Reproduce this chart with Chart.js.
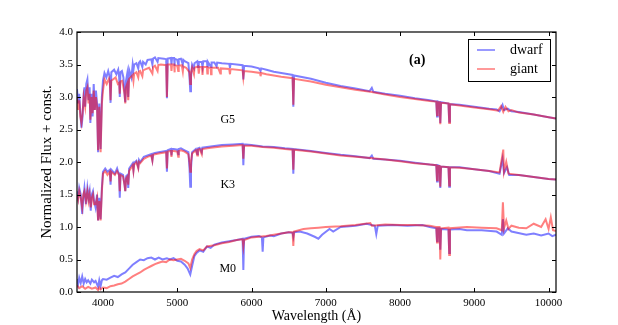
<!DOCTYPE html>
<html>
<head>
<meta charset="utf-8">
<script src="https://cdn.jsdelivr.net/npm/chart.js@4"></script>
<style>
  html, body { margin: 0; padding: 0; background: #fff; }
  #wrap { width: 618px; height: 325px; }
</style>
</head>
<body>
<div id="wrap"><canvas id="specChart" width="618" height="325"></canvas></div>
<script>
// spectra: [wavelength (A), normalized flux + const]
const g5Dwarf = [
  [3650,3.12],[3665,2.9],[3680,3.05],[3695,2.75],[3710,2.53],[3725,2.7],[3740,3.05],[3750,3.15],[3760,2.85],[3775,3.2],
  [3790,3.27],[3805,2.95],[3820,3.15],[3830,2.6],[3845,3.05],[3860,2.7],[3875,3.2],[3890,2.8],[3905,3.1],[3920,2.9],
  [3934,2.15],[3950,2.9],[3968,2.2],[3985,3.0],[4000,3.25],[4020,3.37],[4045,3.3],[4070,3.4],[4092,3.3],[4102,2.91],
  [4112,3.38],[4150,3.42],[4180,3.35],[4205,3.42],[4218,3.3],[4226,3.0],[4234,3.38],[4255,3.4],[4275,3.3],[4290,3.05],
  [4300,2.92],[4310,3.25],[4325,3.35],[4340,3.0],[4352,3.42],[4383,3.3],[4400,3.5],[4410,3.42],[4420,3.5],[4450,3.52],
  [4475,3.44],[4485,3.53],[4500,3.55],[4530,3.46],[4540,3.54],[4575,3.5],[4600,3.57],[4650,3.58],[4665,3.5],[4675,3.59],
  [4700,3.61],[4735,3.54],[4745,3.6],[4820,3.59],[4851,3.58],[4861,2.98],[4871,3.59],[4915,3.6],[4922,3.5],[4930,3.6],
  [4957,3.6],[4962,3.48],[4968,3.59],[5000,3.57],[5013,3.5],[5020,3.58],[5050,3.59],[5075,3.5],[5082,3.57],[5100,3.55],
  [5150,3.52],[5165,3.3],[5175,3.09],[5185,3.3],[5200,3.5],[5225,3.44],[5232,3.52],[5270,3.55],[5280,3.46],[5290,3.54],
  [5330,3.54],[5340,3.46],[5350,3.55],[5400,3.55],[5405,3.47],[5412,3.54],[5455,3.46],[5462,3.53],[5500,3.53],[5530,3.47],
  [5537,3.53],[5600,3.52],[5700,3.51],[5710,3.45],[5717,3.51],[5800,3.5],[5880,3.49],[5890,3.27],[5900,3.48],[6000,3.47],
  [6100,3.44],[6122,3.4],[6130,3.44],[6200,3.42],[6300,3.39],[6400,3.37],[6500,3.35],[6553,3.34],[6563,2.85],[6573,3.33],
  [6800,3.28],[7000,3.22],[7200,3.17],[7400,3.13],[7590,3.09],[7620,3.14],[7640,3.08],[7800,3.05],[8000,3.02],[8200,2.98],
  [8400,2.95],[8488,2.93],[8498,2.7],[8508,2.93],[8532,2.92],[8542,2.6],[8552,2.92],[8652,2.9],[8662,2.62],[8672,2.89],
  [8800,2.88],[9000,2.85],[9200,2.82],[9300,2.81],[9340,2.78],[9380,2.88],[9400,2.8],[9450,2.82],[9500,2.78],[9600,2.77],
  [9800,2.73],[10000,2.69],[10100,2.67]
];
const g5Giant = [
  [3650,3.0],[3665,2.8],[3680,2.95],[3695,2.7],[3710,2.6],[3725,2.75],[3740,3.0],[3760,2.85],[3775,3.1],[3790,3.15],
  [3805,2.9],[3820,3.05],[3830,2.65],[3845,3.0],[3860,2.75],[3875,3.1],[3890,2.8],[3905,3.0],[3920,2.85],[3934,2.18],
  [3950,2.85],[3968,2.15],[3985,2.9],[4000,3.1],[4020,3.27],[4050,3.2],[4080,3.28],[4092,3.22],[4102,2.95],[4112,3.25],
  [4170,3.3],[4200,3.2],[4218,3.22],[4226,3.05],[4234,3.24],[4260,3.25],[4290,3.05],[4300,2.9],[4310,3.15],[4325,3.2],
  [4340,2.95],[4352,3.28],[4400,3.34],[4410,3.25],[4420,3.36],[4450,3.38],[4475,3.3],[4485,3.39],[4500,3.4],[4530,3.32],
  [4540,3.41],[4560,3.42],[4620,3.45],[4665,3.36],[4675,3.46],[4700,3.48],[4735,3.4],[4745,3.49],[4780,3.5],[4851,3.49],
  [4861,3.0],[4871,3.5],[4915,3.5],[4922,3.4],[4930,3.5],[4957,3.5],[4962,3.38],[4968,3.49],[5000,3.48],[5013,3.4],
  [5020,3.48],[5060,3.49],[5075,3.39],[5082,3.47],[5120,3.45],[5165,3.38],[5175,3.2],[5185,3.38],[5200,3.45],[5225,3.35],
  [5232,3.45],[5280,3.47],[5290,3.36],[5300,3.46],[5333,3.46],[5340,3.34],[5350,3.46],[5400,3.46],[5405,3.36],[5412,3.45],
  [5450,3.45],[5455,3.35],[5462,3.45],[5550,3.45],[5580,3.36],[5587,3.44],[5700,3.43],[5710,3.35],[5717,3.43],[5880,3.41],
  [5890,3.3],[5900,3.4],[6000,3.39],[6115,3.37],[6122,3.32],[6130,3.37],[6200,3.35],[6400,3.31],[6553,3.29],[6563,2.88],
  [6573,3.28],[6800,3.24],[7000,3.19],[7200,3.15],[7400,3.11],[7600,3.08],[7800,3.04],[8000,3.0],[8200,2.97],[8400,2.94],
  [8488,2.93],[8498,2.72],[8508,2.92],[8532,2.92],[8542,2.58],[8552,2.91],[8652,2.9],[8662,2.6],[8672,2.89],[8800,2.87],
  [9000,2.84],[9200,2.81],[9320,2.79],[9360,2.86],[9390,2.77],[9420,2.85],[9460,2.78],[9500,2.8],[9600,2.76],[9800,2.73],
  [10000,2.69],[10100,2.67]
];
const k3Dwarf = [
  [3650,1.55],[3665,1.45],[3680,1.6],[3700,1.5],[3720,1.2],[3735,1.45],[3750,1.6],[3770,1.35],[3790,1.6],[3805,1.45],
  [3820,1.55],[3835,1.25],[3850,1.5],[3865,1.55],[3880,1.4],[3900,1.3],[3920,1.5],[3934,1.1],[3950,1.45],[3968,1.12],
  [3985,1.6],[4000,1.85],[4030,1.9],[4060,1.85],[4092,1.88],[4102,1.65],[4112,1.88],[4160,1.82],[4190,1.9],[4216,1.8],
  [4226,1.45],[4236,1.82],[4270,1.8],[4290,1.65],[4300,1.55],[4312,1.78],[4330,1.8],[4340,1.6],[4352,1.9],[4400,1.98],
  [4410,1.88],[4420,1.99],[4450,2.02],[4475,1.92],[4485,2.03],[4500,2.0],[4550,2.08],[4600,2.1],[4650,2.12],[4665,2.03],
  [4675,2.13],[4700,2.14],[4750,2.15],[4851,2.17],[4861,1.85],[4871,2.18],[4915,2.2],[4922,2.1],[4930,2.2],[4950,2.2],
  [5000,2.19],[5013,2.12],[5020,2.2],[5050,2.21],[5100,2.18],[5150,2.15],[5165,1.9],[5175,1.62],[5185,1.9],[5200,2.15],
  [5250,2.2],[5270,2.12],[5278,2.21],[5300,2.22],[5330,2.15],[5337,2.22],[5450,2.24],[5600,2.26],[5750,2.27],[5880,2.28],
  [5890,1.95],[5900,2.27],[6000,2.26],[6150,2.24],[6300,2.23],[6450,2.21],[6553,2.2],[6563,1.82],[6573,2.2],[6800,2.17],
  [7000,2.14],[7200,2.11],[7400,2.09],[7590,2.06],[7620,2.1],[7640,2.05],[7800,2.04],[8000,2.02],[8200,1.99],[8400,1.96],
  [8488,1.95],[8498,1.7],[8508,1.95],[8532,1.94],[8542,1.6],[8552,1.93],[8652,1.92],[8662,1.62],[8672,1.92],[8800,1.92],
  [9000,1.89],[9200,1.86],[9340,1.82],[9380,2.05],[9400,1.83],[9440,1.92],[9470,1.8],[9600,1.8],[9800,1.77],[10000,1.74],
  [10100,1.73]
];
const k3Giant = [
  [3650,1.5],[3665,1.42],[3680,1.55],[3700,1.45],[3720,1.3],[3735,1.5],[3750,1.55],[3770,1.4],[3790,1.55],[3805,1.4],
  [3820,1.5],[3835,1.3],[3850,1.45],[3865,1.5],[3880,1.35],[3900,1.35],[3920,1.45],[3934,1.1],[3950,1.4],[3968,1.1],
  [3985,1.55],[4000,1.82],[4030,1.86],[4060,1.8],[4092,1.85],[4102,1.7],[4112,1.85],[4160,1.8],[4190,1.86],[4216,1.8],
  [4226,1.55],[4236,1.8],[4270,1.78],[4290,1.65],[4300,1.55],[4312,1.75],[4330,1.78],[4340,1.65],[4352,1.86],[4400,1.95],
  [4410,1.86],[4420,1.96],[4450,2.0],[4475,1.9],[4485,2.0],[4500,1.98],[4550,2.05],[4600,2.08],[4650,2.1],[4665,2.02],
  [4675,2.11],[4700,2.12],[4750,2.13],[4851,2.15],[4861,1.9],[4871,2.16],[4915,2.17],[4922,2.08],[4930,2.17],[4950,2.17],
  [5000,2.16],[5013,2.08],[5020,2.17],[5050,2.18],[5100,2.16],[5150,2.12],[5165,2.0],[5175,1.85],[5185,2.0],[5200,2.13],
  [5250,2.18],[5270,2.1],[5278,2.19],[5300,2.2],[5330,2.12],[5337,2.2],[5450,2.22],[5600,2.24],[5750,2.25],[5880,2.26],
  [5890,2.05],[5900,2.25],[6000,2.25],[6150,2.23],[6300,2.22],[6450,2.2],[6553,2.19],[6563,1.88],[6573,2.19],[6800,2.16],
  [7000,2.13],[7200,2.1],[7400,2.08],[7600,2.06],[7800,2.04],[8000,2.01],[8200,1.98],[8400,1.96],[8488,1.95],[8498,1.72],
  [8508,1.94],[8532,1.94],[8542,1.62],[8552,1.93],[8652,1.92],[8662,1.64],[8672,1.92],[8800,1.91],[9000,1.89],[9200,1.86],
  [9340,1.84],[9390,2.19],[9400,1.85],[9430,2.0],[9460,1.82],[9600,1.8],[9800,1.77],[10000,1.74],[10100,1.73]
];
const m0Dwarf = [
  [3650,0.2],[3665,0.12],[3680,0.22],[3700,0.14],[3720,0.24],[3740,0.13],[3760,0.2],[3780,0.15],[3800,0.18],[3830,0.13],
  [3850,0.19],[3880,0.15],[3900,0.17],[3934,0.08],[3950,0.18],[3968,0.09],[3985,0.18],[4000,0.2],[4050,0.19],[4100,0.22],
  [4150,0.25],[4200,0.23],[4250,0.27],[4300,0.3],[4350,0.36],[4400,0.42],[4450,0.46],[4500,0.5],[4550,0.49],[4600,0.52],
  [4650,0.53],[4700,0.5],[4750,0.53],[4800,0.5],[4860,0.52],[4900,0.5],[4950,0.52],[5000,0.48],[5050,0.47],[5100,0.42],
  [5140,0.36],[5175,0.27],[5200,0.4],[5230,0.55],[5260,0.6],[5300,0.64],[5350,0.62],[5400,0.7],[5450,0.68],[5500,0.73],
  [5600,0.76],[5700,0.78],[5800,0.8],[5880,0.82],[5890,0.34],[5900,0.82],[6000,0.85],[6100,0.86],[6140,0.84],[6150,0.62],
  [6160,0.84],[6250,0.87],[6300,0.86],[6400,0.9],[6500,0.92],[6553,0.91],[6563,0.85],[6573,0.92],[6650,0.93],[6750,0.9],
  [6850,0.85],[6900,0.82],[6950,0.88],[7050,0.97],[7100,0.93],[7200,1.0],[7400,1.02],[7550,1.05],[7660,1.02],[7680,0.89],
  [7700,1.02],[7900,1.03],[8100,1.02],[8300,1.03],[8400,1.0],[8488,0.98],[8498,0.78],[8508,0.98],[8532,0.98],[8542,0.65],
  [8552,0.97],[8652,0.96],[8662,0.6],[8672,0.96],[8800,0.97],[8900,0.95],[9100,0.95],[9300,0.93],[9370,0.88],[9385,1.12],
  [9400,0.9],[9450,0.98],[9500,0.93],[9700,0.88],[9800,0.9],[9900,0.87],[10000,0.9],[10050,0.86],[10100,0.88]
];
const m0Giant = [
  [3650,0.1],[3680,0.06],[3720,0.09],[3760,0.05],[3800,0.08],[3850,0.05],[3900,0.07],[3934,0.03],[3950,0.07],[3968,0.04],
  [4000,0.07],[4050,0.06],[4100,0.09],[4150,0.1],[4200,0.12],[4250,0.13],[4300,0.16],[4350,0.2],[4400,0.24],[4450,0.27],
  [4500,0.3],[4550,0.34],[4600,0.37],[4650,0.4],[4700,0.43],[4750,0.45],[4800,0.47],[4850,0.46],[4900,0.5],[4950,0.49],
  [5000,0.5],[5050,0.51],[5100,0.48],[5150,0.44],[5175,0.37],[5200,0.5],[5230,0.58],[5260,0.63],[5300,0.66],[5350,0.64],
  [5400,0.7],[5500,0.72],[5600,0.75],[5700,0.77],[5800,0.8],[5880,0.81],[5890,0.7],[5900,0.8],[6000,0.84],[6100,0.85],
  [6200,0.86],[6300,0.88],[6400,0.9],[6500,0.92],[6553,0.92],[6563,0.71],[6573,0.93],[6700,0.97],[6800,0.98],[6900,0.99],
  [7000,1.0],[7200,1.01],[7400,1.03],[7600,1.06],[7620,1.02],[7800,1.04],[8000,1.03],[8200,1.03],[8400,1.02],[8488,1.0],
  [8498,0.76],[8508,1.0],[8532,1.0],[8542,0.5],[8552,0.98],[8652,0.99],[8662,0.57],[8672,0.98],[8900,1.0],[9100,0.99],
  [9300,0.98],[9370,0.95],[9385,1.38],[9400,0.98],[9430,1.1],[9460,0.97],[9500,1.02],[9600,0.99],[9700,0.98],[9800,1.05],
  [9900,1.0],[9960,1.12],[10000,0.97],[10030,1.15],[10060,0.95],[10100,0.94]
];
const xTicks = [4000, 5000, 6000, 7000, 8000, 9000, 10000];
const yTicks = [0.0, 0.5, 1.0, 1.5, 2.0, 2.5, 3.0, 3.5, 4.0];
const typeLabels = [['G5', 5680, 2.65], ['K3', 5680, 1.65], ['M0', 5680, 0.35]];
const seriesNames = ['dwarf', 'giant'];

const dwarfColor = 'rgba(0,0,255,0.5)';
const giantColor = 'rgba(255,0,0,0.5)';
const serif = "'Liberation Serif', 'DejaVu Serif', serif";

function toXY(arr) { return arr.map(p => ({ x: p[0], y: p[1] })); }
function line(data, color, order) {
  return { data: toXY(data), borderColor: color, borderWidth: 2, pointRadius: 0, tension: 0, fill: false, order: order };
}

// frame, inward ticks, star-type labels and legend box (matplotlib classic look)
const decorations = {
  id: 'decorations',
  afterDraw(chart) {
    const ctx = chart.ctx;
    const a = chart.chartArea;
    const xs = chart.scales.x, ys = chart.scales.y;
    ctx.save();
    ctx.strokeStyle = '#000';
    ctx.lineWidth = 1;
    xTicks.forEach(v => {
      const px = Math.round(xs.getPixelForValue(v)) + 0.5;
      ctx.beginPath();
      ctx.moveTo(px, a.bottom); ctx.lineTo(px, a.bottom - 4);
      ctx.moveTo(px, a.top); ctx.lineTo(px, a.top + 4);
      ctx.stroke();
    });
    yTicks.forEach(v => {
      const py = Math.round(ys.getPixelForValue(v)) + 0.5;
      ctx.beginPath();
      ctx.moveTo(a.left, py); ctx.lineTo(a.left + 4, py);
      ctx.moveTo(a.right, py); ctx.lineTo(a.right - 4, py);
      ctx.stroke();
    });
    ctx.lineWidth = 1.2;
    ctx.strokeRect(a.left, a.top, a.right - a.left, a.bottom - a.top);

    ctx.fillStyle = '#000';
    ctx.font = '12px ' + serif;
    ctx.textAlign = 'center';
    ctx.textBaseline = 'middle';
    typeLabels.forEach(t => {
      ctx.fillText(t[0], xs.getPixelForValue(t[1]), ys.getPixelForValue(t[2]));
    });
    ctx.font = 'bold 14px ' + serif;
    ctx.fillText('(a)', xs.getPixelForValue(8230), ys.getPixelForValue(3.56));

    // legend
    const lx = a.right - 88, ly = a.top + 7, lw = 82, lh = 42;
    ctx.fillStyle = '#fff';
    ctx.fillRect(lx, ly, lw, lh);
    ctx.lineWidth = 1;
    ctx.strokeStyle = '#000';
    ctx.strokeRect(lx + 0.5, ly + 0.5, lw, lh);
    [dwarfColor, giantColor].forEach((c, i) => {
      const yy = ly + 11 + i * 19;
      ctx.strokeStyle = c;
      ctx.lineWidth = 1.6;
      ctx.beginPath();
      ctx.moveTo(lx + 9, yy); ctx.lineTo(lx + 27, yy);
      ctx.stroke();
      ctx.fillStyle = '#000';
      ctx.font = '14px ' + serif;
      ctx.textAlign = 'left';
      ctx.fillText(seriesNames[i], lx + 42, yy);
    });
    ctx.restore();
  }
};

new Chart(document.getElementById('specChart'), {
  type: 'line',
  data: {
    datasets: [
      line(g5Giant, giantColor, 0), line(k3Giant, giantColor, 0), line(m0Giant, giantColor, 0),
      line(g5Dwarf, dwarfColor, 1), line(k3Dwarf, dwarfColor, 1), line(m0Dwarf, dwarfColor, 1)
    ]
  },
  options: {
    responsive: false,
    animation: false,
    layout: { padding: { left: 38, right: 62, top: 32, bottom: 0 } },
    plugins: { legend: { display: false }, tooltip: { enabled: false } },
    scales: {
      x: {
        type: 'linear',
        min: 3650,
        max: 10100,
        afterBuildTicks: s => { s.ticks = xTicks.map(v => ({ value: v })); },
        afterFit: s => { s.height = 33; },
        grid: { display: false, drawTicks: false },
        border: { display: false },
        ticks: { color: '#000', font: { family: serif, size: 11 }, padding: 5, maxRotation: 0, callback: v => String(v) },
        title: { display: true, text: 'Wavelength (Å)', color: '#000', font: { family: serif, size: 14 }, padding: { top: 0, bottom: 0 } }
      },
      y: {
        min: 0,
        max: 4,
        afterBuildTicks: s => { s.ticks = yTicks.map(v => ({ value: v })); },
        afterFit: s => { s.width = 39; },
        grid: { display: false, drawTicks: false },
        border: { display: false },
        ticks: { color: '#000', font: { family: serif, size: 11 }, padding: 4, callback: v => v.toFixed(1) },
        title: { display: true, text: 'Normalized Flux + const.', color: '#000', font: { family: serif, size: 15 }, padding: { top: 0, bottom: 2 } }
      }
    }
  },
  plugins: [decorations]
});
</script>
</body>
</html>
